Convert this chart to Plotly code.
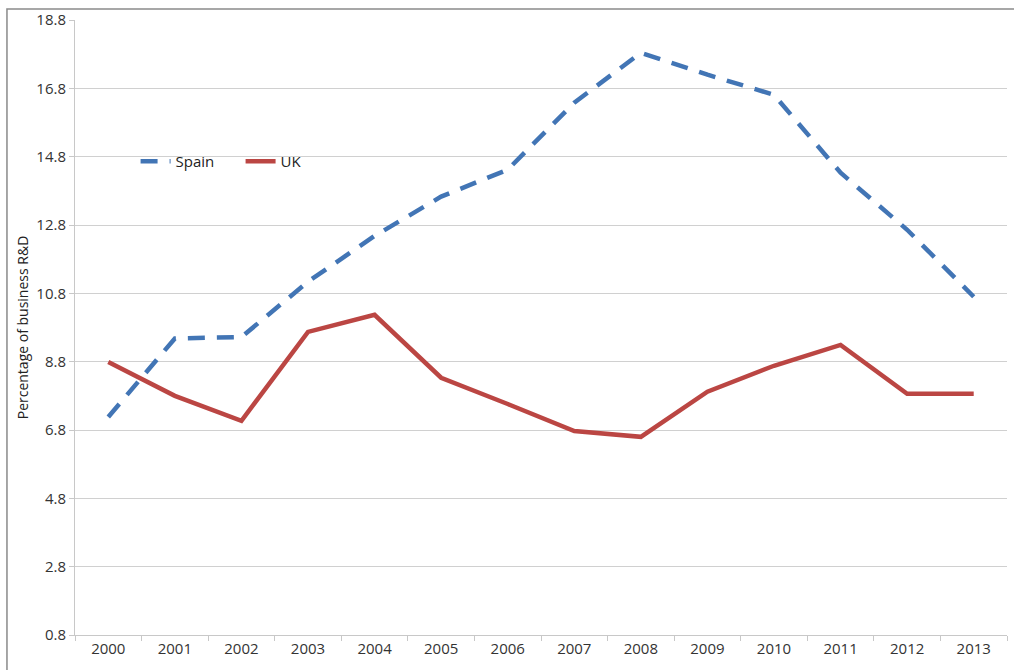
import plotly.graph_objects as go

years = ["2000", "2001", "2002", "2003", "2004", "2005", "2006",
         "2007", "2008", "2009", "2010", "2011", "2012", "2013"]
spain = [7.18, 9.48, 9.52, 11.14, 12.48, 13.63, 14.42,
         16.38, 17.84, 17.20, 16.61, 14.33, 12.66, 10.70]
uk = [8.79, 7.80, 7.07, 9.67, 10.17, 8.33, 7.56,
      6.77, 6.60, 7.92, 8.68, 9.29, 7.86, 7.86]
y_ticks = [0.8, 2.8, 4.8, 6.8, 8.8, 10.8, 12.8, 14.8, 16.8, 18.8]

font_family = "Open Sans, Lato, DejaVu Sans, sans-serif"

fig = go.Figure()
fig.add_trace(go.Scatter(
    x=years, y=spain, name="Spain", mode="lines",
    line=dict(color="#4275b5", width=4.5, dash="17px,12px"),
))
fig.add_trace(go.Scatter(
    x=years, y=uk, name="UK", mode="lines",
    line=dict(color="#bb4643", width=4.5),
))

fig.update_layout(
    width=1014, height=670,
    margin=dict(l=75, r=7, t=20, b=35),
    paper_bgcolor="white", plot_bgcolor="white",
    font=dict(family=font_family, size=15, color="#333333"),
    showlegend=True,
    legend=dict(
        orientation="h", x=0.065, y=0.77, xanchor="left", yanchor="middle",
        bgcolor="rgba(0,0,0,0)", font=dict(size=15, color="#222222"),
        entrywidth=60, entrywidthmode="pixels", tracegroupgap=0,
    ),
    xaxis=dict(
        type="category", showgrid=False, showline=True,
        linecolor="#c8c8c8", linewidth=1,
        ticks="outside", tickson="boundaries", ticklen=5, tickcolor="#c8c8c8",
        tickfont=dict(size=15, color="#333333"),
        range=[-0.5, 13.5],
    ),
    yaxis=dict(
        range=[0.8, 18.8], tickvals=y_ticks,
        ticktext=[f"{v:.1f}" for v in y_ticks],
        showgrid=True, gridcolor="#d0d0d0", gridwidth=1,
        showline=True, linecolor="#c8c8c8", linewidth=1,
        ticks="outside", ticklen=5, tickcolor="#c8c8c8",
        tickfont=dict(size=15, color="#333333"),
        zeroline=False,
        title=dict(text="Percentage of business R&D", font=dict(size=14, color="#222222"),
                   standoff=4),
    ),
)

# outer chart frame
fig.add_shape(type="rect", xref="paper", yref="paper",
              x0=-0.073, x1=1.2, y0=-0.2, y1=1.0179,
              line=dict(color="#8a8a8a", width=1.5), layer="below")

fig.write_html("out.html")
